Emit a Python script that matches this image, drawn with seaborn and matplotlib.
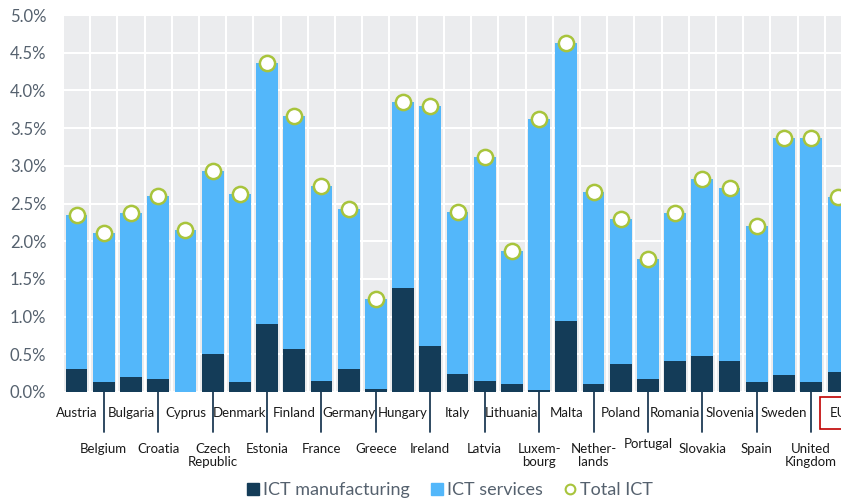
import numpy as np
import seaborn as sns
import matplotlib.pyplot as plt
import matplotlib.transforms as mtransforms
from matplotlib.lines import Line2D

# Values (% of GDP)
countries = ["Austria", "Belgium", "Bulgaria", "Croatia", "Cyprus", "Czech\nRepublic",
             "Denmark", "Estonia", "Finland", "France", "Germany", "Greece", "Hungary",
             "Ireland", "Italy", "Latvia", "Lithuania", "Luxem-\nbourg", "Malta",
             "Nether-\nlands", "Poland", "Portugal", "Romania", "Slovakia", "Slovenia",
             "Spain", "Sweden", "United\nKingdom", "EU"]
ict_manufacturing = [0.31, 0.13, 0.20, 0.17, 0.00, 0.51, 0.13, 0.90, 0.57, 0.15,
                     0.31, 0.04, 1.38, 0.61, 0.24, 0.15, 0.11, 0.02, 0.94, 0.11,
                     0.37, 0.17, 0.41, 0.48, 0.41, 0.13, 0.22, 0.13, 0.26]
total_ict = [2.35, 2.11, 2.38, 2.60, 2.15, 2.93, 2.62, 4.36, 3.66, 2.73,
             2.43, 1.24, 3.84, 3.79, 2.39, 3.12, 1.87, 3.62, 4.63, 2.65,
             2.29, 1.77, 2.37, 2.82, 2.70, 2.20, 3.37, 3.37, 2.59]
yticks = [0, 0.5, 1, 1.5, 2, 2.5, 3, 3.5, 4, 4.5, 5]

dark = "#143c58"
light = "#53b7fa"
ring = "#a8c43c"
grey_text = "#55616e"

sns.set_style("darkgrid", {"axes.facecolor": "#ebecee", "grid.color": "white"})
plt.rcParams["font.family"] = ["Lato", "DejaVu Sans"]

fig = plt.figure(figsize=(8.41, 5.0), dpi=100)
# axes runs past the right edge so that the EU bar is cut, as in the original
ax = fig.add_axes([63 / 841, 108 / 500, 789 / 841, 377 / 500])

n = len(countries)
idx = np.arange(n)

# services sit on top of manufacturing: full-height light bar, dark bar over it
sns.barplot(x=idx, y=total_ict, color=light, saturation=1, width=0.8,
            linewidth=0, ax=ax, zorder=2)
sns.barplot(x=idx, y=ict_manufacturing, color=dark, saturation=1, width=0.8,
            linewidth=0, ax=ax, zorder=3)
ax.scatter(idx, total_ict, s=120, facecolor="white", edgecolor=ring,
           linewidth=1.8, zorder=4, clip_on=False)

ax.set_xlim(-0.5, n - 0.5)
ax.set_ylim(0, 5)
ax.set_yticks(yticks)
ax.set_yticklabels([f"{v:.1f}%" for v in yticks], fontsize=12, color=grey_text)
ax.tick_params(axis="y", length=0, pad=12)

ax.set_xticks(idx)
ax.set_xticklabels([])
ax.set_xticks(np.arange(-0.5, n), minor=True)
ax.tick_params(axis="x", which="both", length=0)
ax.grid(which="major", axis="x", visible=False)
ax.grid(which="minor", axis="x", color="white", lw=1.5)
ax.grid(which="major", axis="y", color="white", lw=1.5)
ax.set_axisbelow(True)
ax.set_xlabel("")
ax.set_ylabel("")
for s in ax.spines.values():
    s.set_visible(False)

# two-row category labels with long ticks for the lower row
trans = mtransforms.blended_transform_factory(ax.transData, ax.transAxes)
for i, name in enumerate(countries):
    if i % 2 == 0:
        kw = {}
        if name == "EU":
            kw = dict(bbox=dict(boxstyle="square,pad=0.75", fc="white", ec="#c00000", lw=1.2))
        ax.annotate(name, xy=(i, 0), xycoords=trans, xytext=(0, -21 * 0.72),
                    textcoords="offset points", ha="center", va="center",
                    fontsize=9.5, color="#1a1a1a", annotation_clip=False, **kw)
    else:
        ax.plot([i, i], [0, -40 / 377], transform=trans, color="#1f3b55",
                lw=1.3, clip_on=False)
        dy = -46 if name == "Portugal" else -51
        ax.annotate(name, xy=(i, 0), xycoords=trans, xytext=(0, dy * 0.72),
                    textcoords="offset points", ha="center", va="top",
                    fontsize=9.5, color="#1a1a1a", linespacing=1.15,
                    annotation_clip=False)

handles = [
    Line2D([], [], marker="s", ls="none", color=dark, markersize=8),
    Line2D([], [], marker="s", ls="none", color=light, markersize=8),
    Line2D([], [], marker="o", ls="none", mfc="white", mec=ring, mew=1.5, markersize=7),
]
leg = fig.legend(handles, ["ICT manufacturing", "ICT services", "Total ICT"],
                 loc="center", bbox_to_anchor=(450 / 841, 1 - 490 / 500), ncol=3,
                 frameon=False, fontsize=13, handlelength=0.6, handletextpad=0.25,
                 columnspacing=1.2, borderpad=0)
for t in leg.get_texts():
    t.set_color(grey_text)

fig.savefig("out.png", dpi=100)
